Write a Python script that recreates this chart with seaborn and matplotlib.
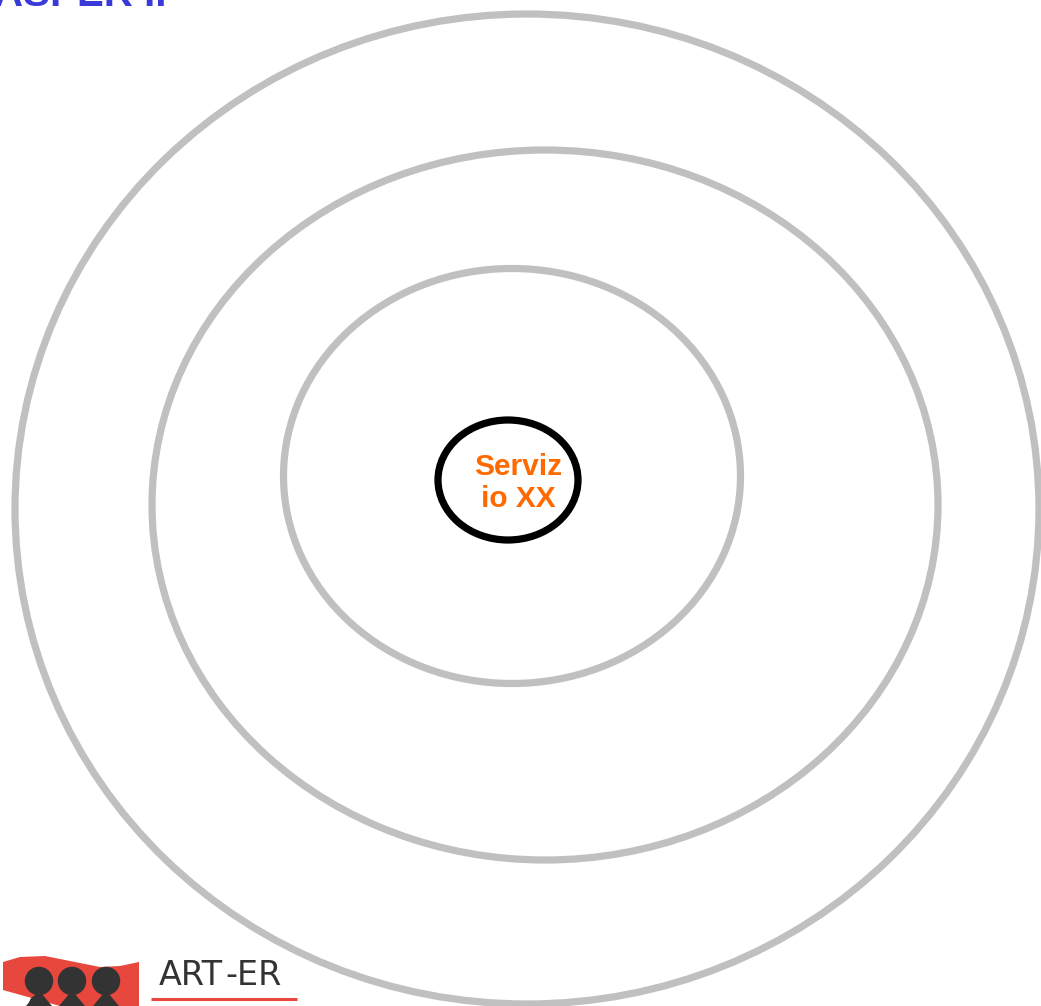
import matplotlib
matplotlib.use("Agg")
import matplotlib.pyplot as plt
from matplotlib.patches import Ellipse, Polygon, Circle
import seaborn as sns
import pandas as pd

# ---- data ----
ring_names = ["outer", "middle", "inner", "core"]
ring_cx = [527, 545, 512, 508]
ring_cy = [509, 505, 476, 480]
ring_w = [1024, 786, 457, 140]
ring_h = [990, 710, 415, 120]
ring_colors = ["#c0c0c0", "#c0c0c0", "#c0c0c0", "#000000"]

center_label = "Serviz\nio XX"
title_text = "ASPER II"
logo_parts = ["ART", "-ER"]
logo_part_x = [159, 225]
logo_dot_x = [39, 72, 106]
logo_dot_y = [981, 981, 981]

sns.set_theme(style="white")
plt.rcParams["font.family"] = ["Liberation Sans", "DejaVu Sans"]

W, H = 1041, 1006
fig = plt.figure(figsize=(W / 100, H / 100), dpi=100)
ax = fig.add_axes([0, 0, 1, 1])
ax.set_xlim(0, W)
ax.set_ylim(H, 0)
ax.axis("off")

df = pd.DataFrame({"name": ring_names, "cx": ring_cx, "cy": ring_cy,
                   "w": ring_w, "h": ring_h, "color": ring_colors})
for _, r in df.iterrows():
    ax.add_patch(Ellipse((r.cx, r.cy), r.w, r.h, fill=False,
                         edgecolor=r.color, linewidth=5.2, zorder=2))

ax.text(518, 483, center_label, color="#ff6a00", fontsize=21.5,
        fontweight="bold", ha="center", va="center", linespacing=1.15,
        zorder=3)

# title (clipped at top, as in the source slide)
ax.text(-6, 6, title_text, color="#3a3ad8", fontsize=29,
        fontweight="bold", ha="left", va="baseline", zorder=3)

# logo
red = "#e8473e"
flag = [(3, 962), (20, 957), (45, 956), (75, 962), (100, 967),
        (120, 966), (139, 962), (139, 1006), (60, 1006), (3, 990)]
ax.add_patch(Polygon(flag, closed=True, facecolor=red, edgecolor="none", zorder=4))
sns.scatterplot(x=logo_dot_x, y=logo_dot_y, s=420, color="#333333",
                edgecolor="none", ax=ax, zorder=5, legend=False)
for x in logo_dot_x:
    ax.add_patch(Polygon([(x - 2, 990), (x + 2, 990), (x + 3, 994), (x + 13, 1006),
                          (x - 13, 1006), (x - 3, 994)],
                         closed=True, facecolor="#333333", edgecolor="none", zorder=5))
ax.add_patch(Circle((38, 1004), 9, facecolor="#333333", edgecolor="none", zorder=5))

for part, x in zip(logo_parts, logo_part_x):
    ax.text(x, 985, part, color="#333333", fontsize=24,
            family=["DejaVu Sans"], ha="left", va="baseline", zorder=5)
ax.plot([151, 297], [999, 999], color=red, linewidth=2.2, zorder=5,
        solid_capstyle="butt")

fig.savefig("out.png", dpi=100)
